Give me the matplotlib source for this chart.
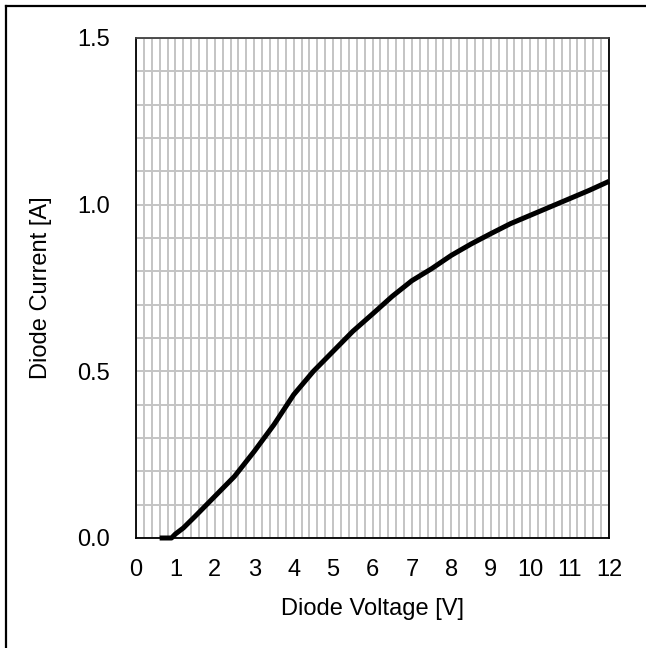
import numpy as np
import matplotlib
matplotlib.use("Agg")
import matplotlib.pyplot as plt
from matplotlib.lines import Line2D

plt.rcParams["font.family"] = ["Liberation Sans", "DejaVu Sans"]

# diode I-V curve
voltage = [0.6, 0.9, 1.0, 1.2, 1.5, 1.75, 2.0, 2.5, 3.0, 3.5, 4.0, 4.5, 5.0, 5.5,
           6.0, 6.5, 7.0, 7.5, 8.0, 8.5, 9.0, 9.5, 10.0, 10.5, 11.0, 11.5, 12.0]
current = [0.0, 0.0, 0.012, 0.03, 0.065, 0.095, 0.125, 0.185, 0.26, 0.34, 0.43,
           0.5, 0.56, 0.62, 0.672, 0.725, 0.772, 0.808, 0.848, 0.882, 0.913,
           0.943, 0.968, 0.993, 1.018, 1.043, 1.07]
x_ticks = list(range(0, 13))
y_ticks = [0.0, 0.5, 1.0, 1.5]

fig = plt.figure(figsize=(6.46, 6.48), dpi=100)
ax = fig.add_axes([136 / 646, 110 / 648, 473 / 646, 500 / 648])

ax.set_xlim(0, 12)
ax.set_ylim(0, 1.5)
ax.set_xticks(x_ticks)
ax.set_yticks(y_ticks)
ax.set_yticklabels([f"{v:.1f}" for v in y_ticks])
ax.set_xticks(np.arange(0, 12.01, 0.2), minor=True)
ax.set_yticks(np.arange(0, 1.501, 0.1), minor=True)
ax.grid(which="both", color="#c4c4c4", linewidth=1.4)
ax.set_axisbelow(True)
ax.tick_params(which="both", length=0, labelsize=17)
ax.tick_params(axis="x", pad=15)
ax.tick_params(axis="y", pad=19)

for s in ax.spines.values():
    s.set_color("black")
    s.set_linewidth(1.3)
ax.spines["top"].set_color("#404040")

ax.plot(voltage, current, color="black", linewidth=3.6, solid_capstyle="butt",
        solid_joinstyle="round", clip_on=False)

ax.set_xlabel("Diode Voltage [V]", fontsize=17, labelpad=12)
ax.set_ylabel("Diode Current [A]", fontsize=17, labelpad=18)

# outer frame (only left/top visible in reference)
fig.add_artist(Line2D([6 / 646, 6 / 646], [0, 1 - 6 / 648], color="black",
                      linewidth=1.6, transform=fig.transFigure))
fig.add_artist(Line2D([6 / 646, 1], [1 - 6 / 648, 1 - 6 / 648], color="black",
                      linewidth=1.6, transform=fig.transFigure))

fig.savefig("out.png", dpi=100)
